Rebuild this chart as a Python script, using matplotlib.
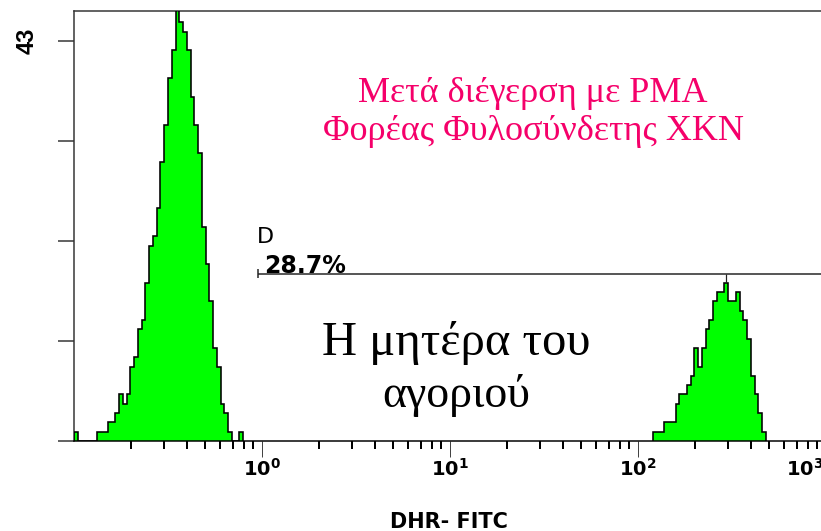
"""
DHR-FITC histogram after PMA stimulation (carrier of X-linked CGD, the boy's mother).
Single-parameter flow histogram on a log axis with the D marker.
"""

import numpy as np
import matplotlib

matplotlib.use("Agg")
import matplotlib.pyplot as plt

# histogram channels: log10 spacing of every channel
BIN_WIDTH_LOG = 0.02

# dim population (unstimulated-like), starts at 10^-1
peak1_start_log = -1.0
peak1_counts = [1, 0, 0, 0, 0, 0,
                1, 1, 1, 2, 2, 3, 5, 4, 5, 8, 9, 12, 13, 17, 21, 22, 25, 30,
                34, 39, 42, 48, 45, 44, 42, 37, 34, 31, 23, 19, 15, 10, 8, 4,
                3, 1, 0, 0, 1]

# bright (DHR oxidising) population
peak2_start_log = 2.08
peak2_counts = [1, 1, 1, 2, 2, 2, 4, 5, 5, 6, 7, 10, 8, 10, 12, 13, 15, 16,
                16, 17, 15, 15, 16, 14, 13, 11, 7, 5, 3, 1]

# marker D
gate_name = "D"
gate_lo = 0.95
gate_hi = 1e4
gate_level = 18
gate_pct = 28.7

y_max_count = 43
x_major = [1, 10, 100, 1000]
x_major_labels = [r"$\mathbf{10^{0}}$", r"$\mathbf{10^{1}}$", r"$\mathbf{10^{2}}$",
                  r"$\mathbf{10^{3}}$"]

title_lines = ["Μετά διέγερση με PMA", "Φορέας Φυλοσύνδετης XKN"]
sample_lines = ["Η μητέρα του", "αγοριού"]
x_label = "DHR- FITC"

PX = 0.72  # points per pixel at dpi 100

plt.rcParams["mathtext.fontset"] = "dejavusans"

fig = plt.figure(figsize=(8.21, 5.31), dpi=100)
# the plot area runs past the right edge of the figure (only up to ~10^3 shows)
ax = fig.add_axes([74 / 821, 1 - 441 / 531, 940 / 821, 430 / 531])
ax.set_xscale("log")
ax.set_xlim(0.1, 1e4)
ax.set_ylim(0, y_max_count * 430 / 400)


def edges_for(start_log, n):
    return 10 ** (start_log + BIN_WIDTH_LOG * np.arange(n + 1))


for start, counts in [(peak1_start_log, peak1_counts), (peak2_start_log, peak2_counts)]:
    edges = edges_for(start, len(counts))
    ax.stairs(counts, edges, fill=True, color="#00ff00", zorder=2)
    ax.stairs(counts, edges, color="black", linewidth=1.6 * PX, zorder=3)

# marker line with the end tick and the peak-channel cursor
ax.hlines(gate_level, gate_lo, gate_hi, color="#222222", linewidth=1.5 * PX, zorder=4)
ax.vlines(gate_lo, gate_level - 0.5, gate_level + 0.5, color="#222222",
          linewidth=1.5 * PX, zorder=4)
pk = int(np.argmax(peak2_counts))
pk_x = 10 ** (peak2_start_log + BIN_WIDTH_LOG * (pk + 0.5))
ax.vlines(pk_x, peak2_counts[pk], gate_level, color="#222222", linewidth=1.2 * PX, zorder=4)

ax.annotate(f"{gate_pct}%", xy=(gate_lo, gate_level), xytext=(6 * PX, 1 * PX),
            textcoords="offset points", ha="left", va="baseline",
            fontsize=17, fontweight="bold", family="DejaVu Sans")
ax.annotate(gate_name, xy=(gate_lo, gate_level), xytext=(-1 * PX, 31 * PX),
            textcoords="offset points", ha="left", va="baseline",
            fontsize=16, family="DejaVu Sans")

# axes frame
for side in ["left", "top"]:
    ax.spines[side].set_color("#333333")
    ax.spines[side].set_linewidth(1.5 * PX)
ax.spines["bottom"].set_color("black")
ax.spines["bottom"].set_linewidth(1.5 * PX)
ax.spines["right"].set_visible(False)

yt = np.linspace(0, y_max_count, 5)
ax.set_yticks(yt)
ax.set_yticklabels([""] * 4 + [str(y_max_count)], rotation=90, va="center",
                   fontsize=17, fontweight="bold",
                   family=["Liberation Sans Narrow", "Liberation Sans"])
ax.tick_params(axis="y", direction="out", length=16 * PX, width=1.5 * PX,
               color="#333333", pad=19 * PX)

# the 10^3 label sits shifted left so it fits at the edge; drawn separately
ax.set_xticks(x_major)
ax.set_xticklabels(x_major_labels[:3] + [""], fontsize=14)
ax.annotate(x_major_labels[3], xy=(1000, 0), xycoords=("data", "axes fraction"),
            xytext=(-40 * PX, -17 * PX), textcoords="offset points",
            ha="left", va="top", fontsize=14)
minor = [m * 10.0 ** d for d in range(-1, 4) for m in range(2, 10)]
ax.set_xticks(minor, minor=True)
ax.set_xticklabels([], minor=True)
ax.tick_params(axis="x", which="major", direction="out", length=16 * PX,
               width=1.0 * PX, color="#444444", pad=1 * PX)
ax.tick_params(axis="x", which="minor", direction="out", length=8 * PX,
               width=2.0 * PX, color="black")

fig.text(449 / 821, 1 - 522 / 531, x_label, ha="center", va="center",
         fontsize=15, fontweight="bold", family="DejaVu Sans")

red = "#f5006a"
for line, base in zip(title_lines, [102, 140]):
    fig.text(533 / 821, 1 - base / 531, line, ha="center", va="baseline",
             fontsize=26, color=red, family="Liberation Serif")
for line, base, size in zip(sample_lines, [355, 407], [35, 33]):
    fig.text(456 / 821, 1 - base / 531, line, ha="center", va="baseline",
             fontsize=size, color="black", family="Liberation Serif")

fig.savefig("out.png", dpi=100)
